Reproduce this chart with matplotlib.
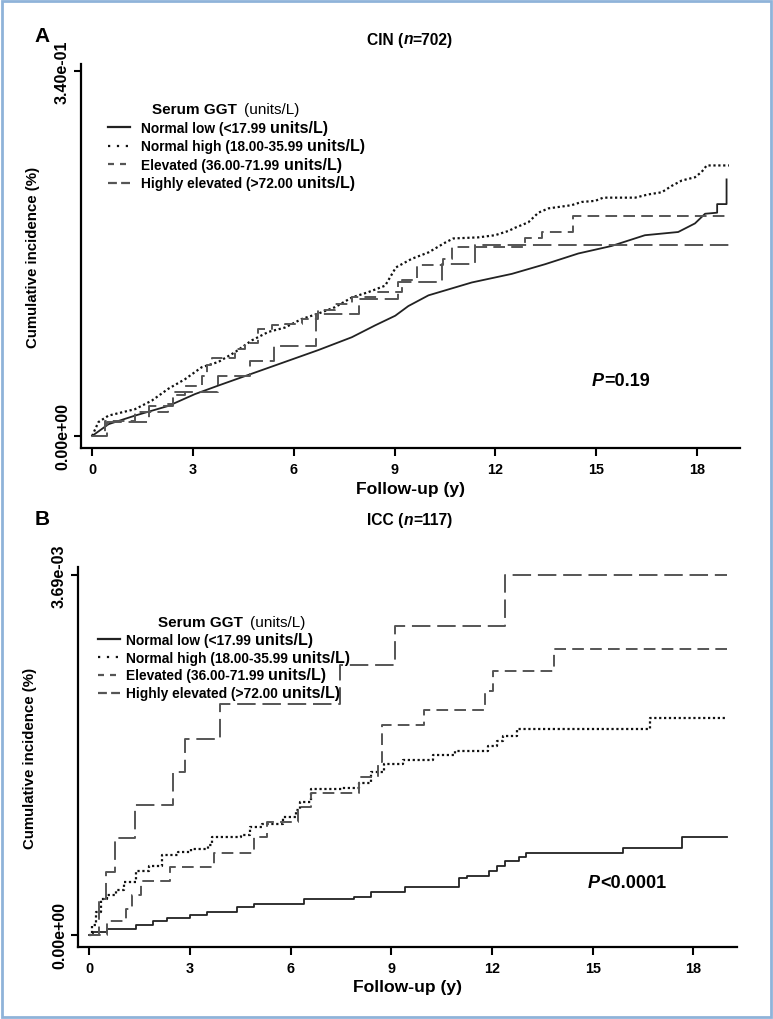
"""
Cumulative incidence of CIN and ICC by serum GGT group
"""

import matplotlib
matplotlib.use("Agg")
import matplotlib.pyplot as plt
from matplotlib import font_manager
from matplotlib.lines import Line2D
from matplotlib.patches import Rectangle
from matplotlib.offsetbox import (AnchoredOffsetbox, HPacker, VPacker,
                                  TextArea, DrawingArea)


def has_font(name):
    try:
        font_manager.findfont(font_manager.FontProperties(family=name),
                              fallback_to_default=False)
        return True
    except ValueError:
        return False


NARROW = ['Liberation Sans Narrow', 'Liberation Sans', 'DejaVu Sans']
WIDE = ['Liberation Sans', 'DejaVu Sans']
# condensed text in the original; shrink the regular face if no narrow one
NS = 1.0 if has_font('Liberation Sans Narrow') else 0.9

# ---- data -------------------------------------------------------------
group_names = ["Normal low (<17.99", "Normal high (18.00-35.99",
               "Elevated (36.00-71.99", "Highly elevated (>72.00"]
unit_text = "units/L)"
x_ticks = [0, 3, 6, 9, 12, 15, 18]

# Panel A: CIN (n=702)
a_low_t = [0, 0.49, 1.28, 2.27, 3.06, 3.76, 4.75, 5.74, 6.73, 7.73, 8.42,
           9.02, 9.41, 10.01, 11.3, 12.49, 13.48, 14.47, 15.46, 16.45, 17.44,
           17.94, 18.24, 18.6, 18.6, 18.88, 18.88]
a_low_v = [0, 0.011, 0.019, 0.028, 0.039, 0.047, 0.058, 0.069, 0.080, 0.092,
           0.103, 0.112, 0.121, 0.131, 0.143, 0.151, 0.160, 0.170, 0.177,
           0.187, 0.190, 0.198, 0.207, 0.208, 0.216, 0.216, 0.239]
a_high_t = [0, 0.19, 0.49, 1.28, 1.78, 2.27, 2.77, 3.26, 3.76, 4.25, 4.75,
            5.25, 5.74, 6.24, 6.73, 7.23, 7.73, 8.22, 8.72, 9.04, 9.51,
            10.01, 10.5, 10.75, 11.49, 11.99, 12.39, 12.59, 12.98, 13.28,
            13.58, 14.27, 14.57, 14.97, 15.21, 16.16, 16.55, 16.95, 17.25,
            17.55, 17.94, 18.14, 18.29, 18.95]
a_high_v = [0, 0.013, 0.019, 0.025, 0.033, 0.044, 0.053, 0.064, 0.069, 0.078,
            0.089, 0.097, 0.101, 0.109, 0.114, 0.120, 0.129, 0.134, 0.140,
            0.157, 0.165, 0.171, 0.180, 0.184, 0.185, 0.187, 0.191, 0.194,
            0.199, 0.208, 0.212, 0.215, 0.218, 0.219, 0.222, 0.222, 0.225,
            0.227, 0.233, 0.238, 0.241, 0.246, 0.252, 0.252]
a_elev_t = [0, 0.39, 1.28, 2.27, 2.42, 2.77, 3.26, 3.41, 3.56, 4.25, 4.55,
            4.95, 5.35, 5.74, 6.24, 6.73, 7.23, 7.73, 8.52, 9.21, 9.66, 10.45,
            10.7, 12.88, 13.38, 14.32, 18.95]
a_elev_v = [0, 0.014, 0.022, 0.030, 0.038, 0.047, 0.056, 0.066, 0.073, 0.081,
            0.087, 0.100, 0.103, 0.104, 0.109, 0.117, 0.123, 0.129, 0.134,
            0.145, 0.159, 0.165, 0.176, 0.184, 0.190, 0.205, 0.205]
a_hi_t = [0, 0.45, 1.7, 2.4, 3.76, 4.7, 5.4, 6.65, 7.95, 9.1, 10.4, 11.38,
          18.95]
a_hi_v = [0, 0.013, 0.028, 0.041, 0.056, 0.070, 0.084, 0.114, 0.128, 0.143,
          0.160, 0.178, 0.178]

# Panel B: ICC (n=117)
b_low_t = [0, 0.1, 0.53, 1.4, 1.9, 2.3, 3.0, 3.5, 4.4, 4.9, 6.4, 7.9, 8.4,
           9.4, 11.0, 11.25, 11.9, 12.15, 12.4, 12.8, 13.0, 15.9, 17.65, 19.0]
b_low_v = [0, 0.00003, 0.00006, 0.00010, 0.00014, 0.00017, 0.00020, 0.00024,
           0.00029, 0.00032, 0.00037, 0.00039, 0.00044, 0.00049, 0.00058,
           0.00060, 0.00066, 0.00071, 0.00076, 0.00080, 0.00084, 0.00089,
           0.00100, 0.00100]
b_high_t = [0, 0.09, 0.21, 0.34, 0.53, 0.78, 1.03, 1.4, 1.78, 2.15, 2.65,
            3.03, 3.53, 3.65, 4.53, 4.78, 5.15, 5.78, 6.15, 6.28, 6.59, 7.53,
            8.03, 8.4, 8.78, 9.35, 10.25, 10.89, 11.89, 12.14, 12.33, 12.73,
            16.7, 19.0]
b_high_v = [0, 0.00010, 0.00024, 0.00037, 0.00041, 0.00046, 0.00054, 0.00066,
            0.00071, 0.00082, 0.00085, 0.00088, 0.00092, 0.00100, 0.00102,
            0.00111, 0.00114, 0.00121, 0.00128, 0.00136, 0.00150, 0.00151,
            0.00156, 0.00167, 0.00175, 0.00179, 0.00184, 0.00189, 0.00194,
            0.00199, 0.00204, 0.00211, 0.00222, 0.00222]
b_elev_t = [0, 0.53, 1.09, 1.28, 1.53, 2.4, 3.71, 4.9, 5.28, 6.21, 6.59, 8.03,
            8.59, 8.71, 9.96, 11.78, 12.03, 13.84, 19.0]
b_elev_v = [0, 0.00014, 0.00027, 0.00041, 0.00055, 0.00070, 0.00084, 0.00100,
            0.00116, 0.00131, 0.00146, 0.00162, 0.00177, 0.00215, 0.00231,
            0.00250, 0.00271, 0.00293, 0.00293]
b_hi_t = [0, 0.3, 0.5, 0.75, 1.35, 2.5, 2.85, 3.9, 7.47, 9.1, 12.38, 19.0]
b_hi_v = [0, 0.00037, 0.00065, 0.00099, 0.00133, 0.00167, 0.00201, 0.00237,
          0.00277, 0.00317, 0.00369, 0.00369]

# ---- styles -----------------------------------------------------------
styles = [
    dict(color='#222222', ls='-', lw=1.3, key_ls='-', key_len=16),
    dict(color='#111111', ls=(0, (1, 1.2)), lw=1.6, key_ls=(0, (1, 3)),
         key_len=15),
    dict(color='#555555', ls=(0, (6, 3.2)), lw=1.4, key_ls=(0, (2.7, 2.7)),
         key_len=13),
    dict(color='#555555', ls=(0, (9.5, 3.5)), lw=1.4, key_ls=(0, (4, 1.9)),
         key_len=16),
]

fig = plt.figure(figsize=(7.73, 10.2), dpi=100)
W, H = 773.0, 1020.0


def fx(px):
    return px / W


def fy(py):
    return 1 - py / H


def packed_text(parts, size, family=NARROW):
    kids = []
    for s, italic in parts:
        kids.append(TextArea(s, textprops=dict(family=family, weight='bold',
                                                size=size,
                                                style='italic' if italic else 'normal')))
    return HPacker(children=kids, sep=0, pad=0, align='baseline')


def place(box, x, y, loc='center'):
    ab = AnchoredOffsetbox(loc=loc, child=box, pad=0, borderpad=0,
                           frameon=False, bbox_to_anchor=(fx(x), fy(y)),
                           bbox_transform=fig.transFigure)
    fig.add_artist(ab)


def legend(x, y, title_indent, text_gap, row_sep):
    title = HPacker(children=[
        DrawingArea(title_indent, 1),
        TextArea("Serum GGT", textprops=dict(family=WIDE, weight='bold', size=11)),
        TextArea("(units/L)", textprops=dict(family=WIDE, size=11)),
    ], sep=5, pad=0, align='baseline')
    rows = [title]
    for name, st in zip(group_names, styles):
        da = DrawingArea(16, 7)
        da.add_artist(Line2D([0, st['key_len']], [3.5, 3.5], color=st['color'],
                             linestyle=st['key_ls'], lw=1.6))
        words = HPacker(children=[
            TextArea(name, textprops=dict(family=NARROW, weight='bold',
                                          size=11 * NS)),
            TextArea(unit_text, textprops=dict(family=WIDE, weight='bold',
                                               size=11.5)),
        ], sep=3, pad=0, align='baseline')
        rows.append(HPacker(children=[da, words], sep=text_gap, pad=0,
                            align='center'))
    place(VPacker(children=rows, sep=row_sep, pad=0, align='left'), x, y,
          loc='upper left')


def panel(rect, xl, yl, series, ytop, ylabels, letter, title, ptext, ploc,
          leg):
    ax = fig.add_axes(rect)
    for (t, v, step), st in zip(series, styles):
        ax.plot(t, v, color=st['color'], linestyle=st['ls'], lw=st['lw'],
                drawstyle='steps-post' if step else 'default')
    ax.set_xlim(*xl)
    ax.set_ylim(*yl)
    for s in ('top', 'right'):
        ax.spines[s].set_visible(False)
    for s in ('left', 'bottom'):
        ax.spines[s].set_linewidth(1.6)
    ax.set_xticks(x_ticks)
    ax.set_xticklabels([str(x) for x in x_ticks], family=NARROW,
                       weight='bold', size=11.5 * NS)
    ax.set_yticks([0, ytop])
    ax.set_yticklabels(ylabels, rotation=90, va='center', family=NARROW,
                       weight='bold', size=11.5)
    ax.tick_params(axis='x', length=6, width=1.5, pad=4)
    ax.tick_params(axis='y', length=5, width=1.5, pad=3)
    ax.set_xlabel("Follow-up (y)", family=NARROW, weight='bold', size=14 * NS)
    ax.xaxis.set_label_coords(0.5, -0.085)
    ax.set_ylabel("Cumulative incidence (%)", family=NARROW, weight='bold',
                  size=12 * NS)
    ax.yaxis.set_label_coords(-0.062, 0.5)
    fig.text(fx(letter[1]), fy(letter[2]), letter[0], family=WIDE,
             weight='bold', size=15, ha='center', va='center')
    place(packed_text(title[0], 12.5 * NS), title[1], title[2])
    place(packed_text(ptext, 13), *ploc)
    legend(*leg)
    return ax


# Panel A
panel([fx(81), fy(449), fx(740) - fx(81), fy(65) - fy(449)],
      (-0.33, 19.28), (-0.0112, 0.3465),
      [(a_low_t, a_low_v, False), (a_high_t, a_high_v, False),
       (a_elev_t, a_elev_v, True), (a_hi_t, a_hi_v, True)],
      0.34, ["0.00e+00", "3.40e-01"], ("A", 42, 37),
      ([("CIN (", False), ("n", True), ("=702)", False)], 410, 40),
      [("P", True), ("=0.19", False)], (621, 382),
      (108, 103, 27, 8, 2.6))

# Panel B
panel([fx(78), fy(948), fx(737) - fx(78), fy(568) - fy(948)],
      (-0.34, 19.3), (-0.000123, 0.003772),
      [(b_low_t, b_low_v, True), (b_high_t, b_high_v, True),
       (b_elev_t, b_elev_v, True), (b_hi_t, b_hi_v, True)],
      0.00369, ["0.00e+00", "3.69e-03"], ("B", 42, 520),
      ([("ICC (", False), ("n", True), ("=117)", False)], 410, 521),
      [("P", True), ("<0.0001", False)], (627, 883),
      (98, 616, 38, 4, 2.0))

# light blue frame around the figure
fig.add_artist(Rectangle((0.002, 0.002), 0.996, 0.996, transform=fig.transFigure,
                         fill=False, edgecolor='#8fb3d9', lw=2))

fig.savefig("out.png", dpi=100)
